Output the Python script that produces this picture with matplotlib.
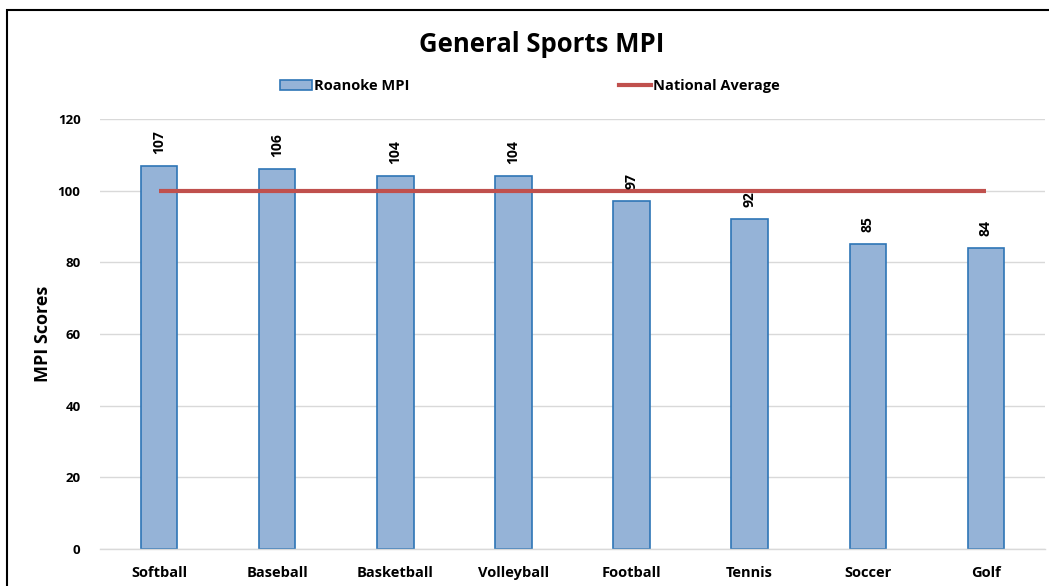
import matplotlib
matplotlib.use("Agg")
import matplotlib.pyplot as plt
from matplotlib.patches import Rectangle
from matplotlib.lines import Line2D
import numpy as np

categories = ["Softball", "Baseball", "Basketball", "Volleyball", "Football", "Tennis", "Soccer", "Golf"]
roanoke_mpi = [107, 106, 104, 104, 97, 92, 85, 84]
national_avg = [100, 100, 100, 100, 100, 100, 100, 100]
yticks = [0, 20, 40, 60, 80, 100, 120]

plt.rcParams['font.family'] = ['Open Sans', 'DejaVu Sans']
plt.rcParams['font.weight'] = 'bold'

fig = plt.figure(figsize=(10.49, 5.86), dpi=100)
ax = fig.add_axes([100/1049, 1-549/586, 945/1049, 430/586])

x = np.arange(len(categories))
ax.bar(x, roanoke_mpi, width=0.31, color="#95B3D7", edgecolor="#2E75B6", linewidth=1.2, zorder=2)
ax.plot(x, national_avg, color="#C0504D", linewidth=3, zorder=3, solid_capstyle='butt')

for xi, v in zip(x, roanoke_mpi):
    ax.annotate(str(v), (xi, v), xytext=(0, 12), textcoords="offset pixels",
                rotation=90, ha="center", va="bottom", fontsize=10, fontweight="bold")

ax.set_xlim(-0.5, len(categories) - 0.5)
ax.set_ylim(0, 120)
ax.set_yticks(yticks)
ax.set_yticklabels([str(t) for t in yticks], fontsize=9.5, fontweight="bold")
ax.set_xticks(x)
ax.set_xticklabels(categories, fontsize=10.5, fontweight="bold")
ax.tick_params(axis="both", length=0)
ax.tick_params(axis="y", pad=14)
ax.tick_params(axis="x", pad=12)
ax.grid(axis="y", color="#D9D9D9", linewidth=1, zorder=0)
ax.set_axisbelow(True)
for s in ["top", "right", "left"]:
    ax.spines[s].set_visible(False)
ax.spines["bottom"].set_color("#D9D9D9")
ax.spines["bottom"].set_linewidth(1)

ax.set_ylabel("MPI Scores", fontsize=13, fontweight="bold", labelpad=4)

fig.text(542/1049, 1-45/586, "General Sports MPI", ha="center", va="center", fontsize=18.5, fontweight="bold")

handles = [Rectangle((0, 0), 1, 1, facecolor="#95B3D7", edgecolor="#2E75B6", linewidth=1.2),
           Line2D([0], [0], color="#C0504D", linewidth=3)]
fig.legend(handles, ["Roanoke MPI", "National Average"], loc="center", bbox_to_anchor=(0.505, 1-86/586),
           ncol=2, frameon=False, fontsize=10.5, columnspacing=14.4, handlelength=2.2, handletextpad=0.1)

fig.patches.append(Rectangle((7/1049, -0.1), 1.2, 1-10/586 + 0.1, transform=fig.transFigure,
                             fill=False, edgecolor="black", linewidth=1.5, zorder=10))

fig.savefig("out.png", dpi=100)
